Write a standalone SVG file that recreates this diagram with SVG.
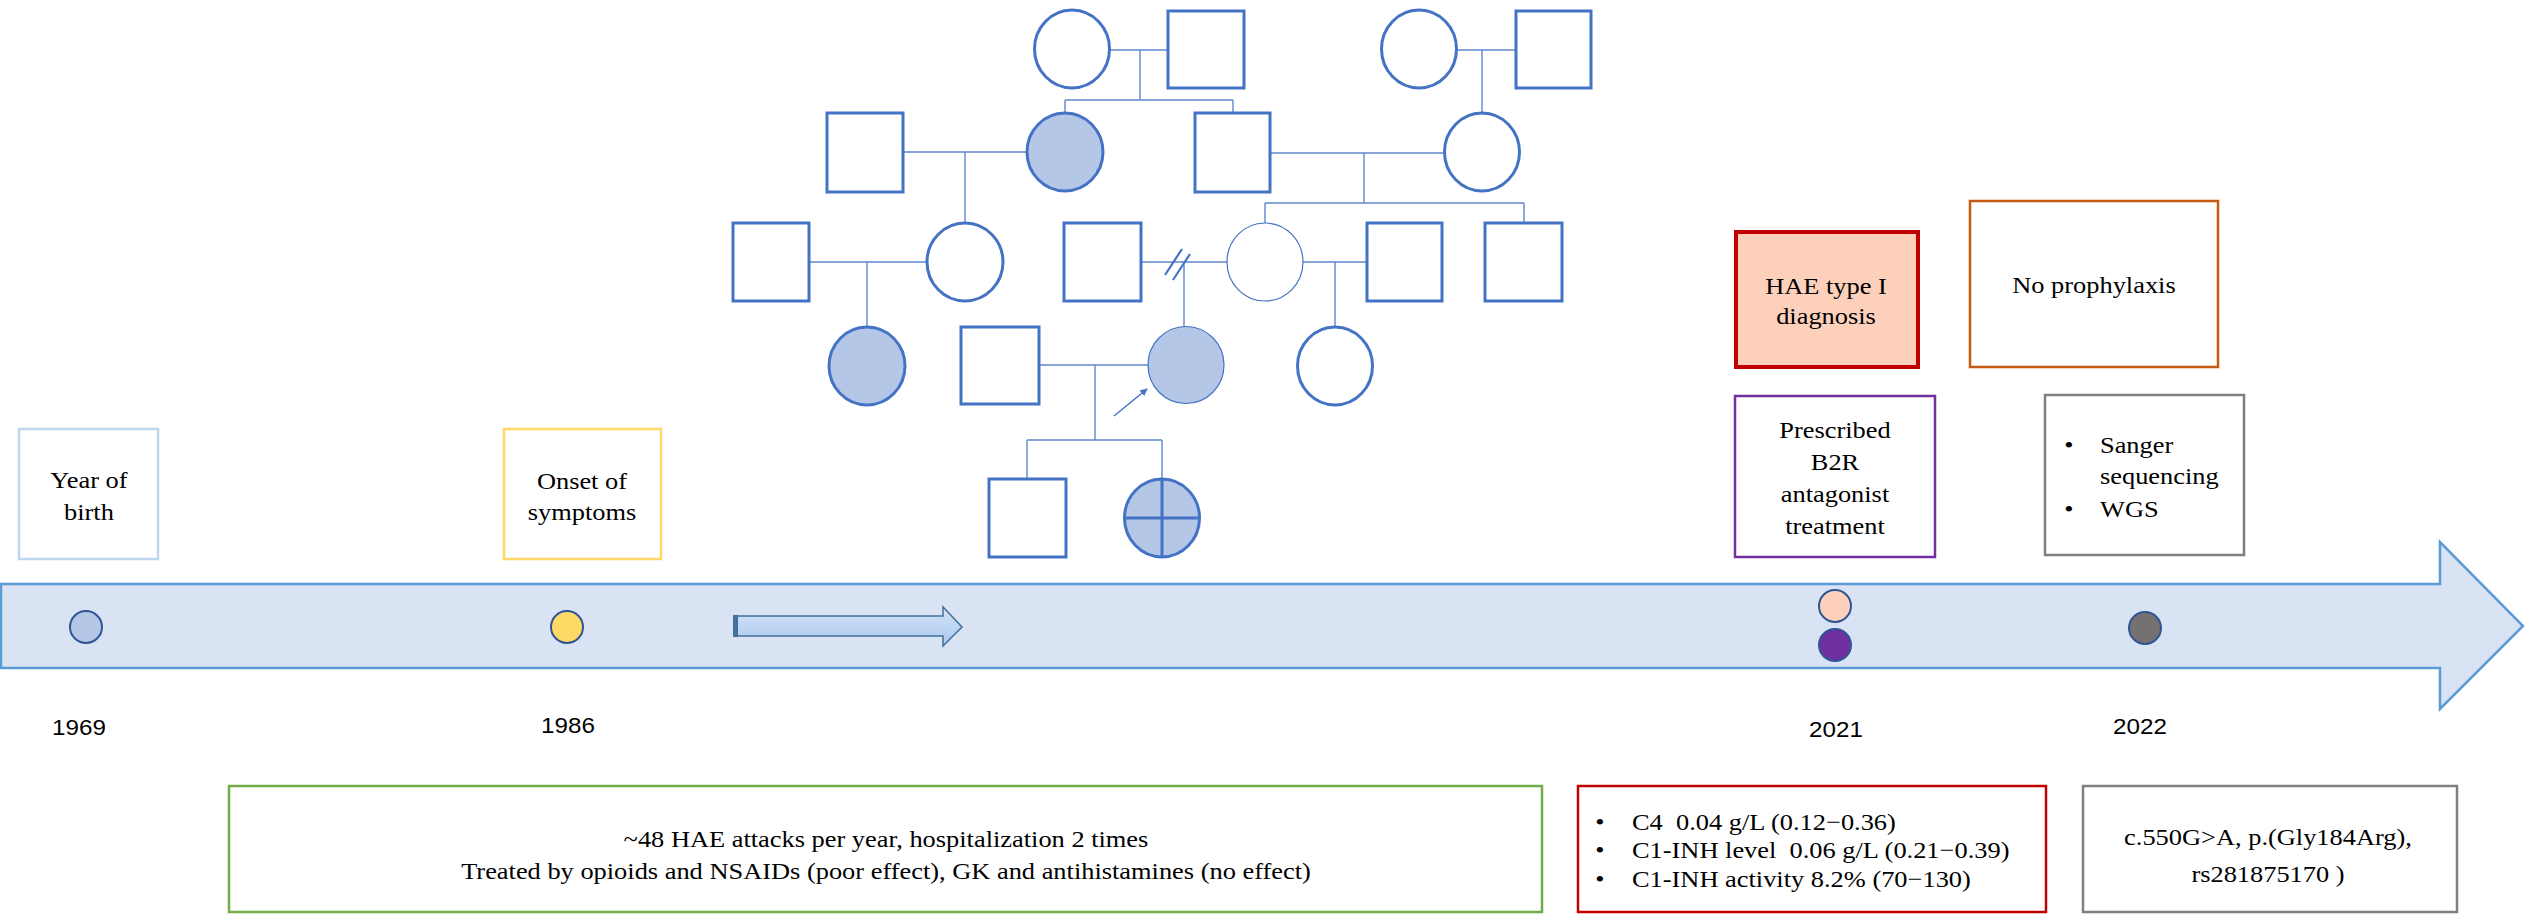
<svg xmlns="http://www.w3.org/2000/svg" width="2526" height="915" viewBox="0 0 2526 915">
<style>
.sq{fill:#fff;stroke:#4472C4;stroke-width:3}
.ci{fill:#fff;stroke:#4472C4;stroke-width:3}
.cit{fill:#fff;stroke:#4472C4;stroke-width:1.2}
.aff{fill:#B4C7E7}
.ln{stroke:#4472C4;stroke-width:1.4;fill:none;opacity:0.85}
.t{font-family:"Liberation Serif","Times New Roman",serif;font-size:24px;fill:#000;white-space:pre;transform-box:fill-box;transform-origin:center;transform:scaleX(1.1)}
.tl{transform-origin:left center}
.c{text-anchor:middle}
.yr{font-family:"Liberation Sans",Arial,sans-serif;font-size:22px;fill:#000;text-anchor:middle;transform-box:fill-box;transform-origin:center;transform:scaleX(1.1)}
.box{fill:#fff;stroke-width:2.5}
.dot{stroke:#2F5597;stroke-width:2}
</style>
<defs>
<marker id="ah" viewBox="0 0 10 10" refX="9" refY="5" markerWidth="5" markerHeight="5" orient="auto" markerUnits="strokeWidth">
<path d="M0,0 L10,5 L0,10 Z" fill="#4472C4"/>
</marker>
<linearGradient id="ag" x1="0" y1="0" x2="0" y2="1">
<stop offset="0" stop-color="#D6E4F7"/>
<stop offset="1" stop-color="#A9C8EF"/>
</linearGradient>
</defs>

<!-- timeline band -->
<g id="timeline">
<path d="M1,584 H2440 V542 L2523,626 L2440,709 V668 H1 Z" fill="#DAE3F3" stroke="#5B9BD5" stroke-width="2.5"/>
<path d="M735,616 H943 V607 L962,627 L943,646 V636 H735 Z" fill="url(#ag)" stroke="#41719C" stroke-width="1.5"/>
<rect x="733" y="615" width="5" height="22" fill="#41719C"/>
</g>

<g id="dots">
<circle class="dot" cx="86" cy="627" r="16" fill="#B4C7E7"/>
<circle class="dot" cx="567" cy="627" r="16" fill="#FFD966"/>
<circle class="dot" cx="1835" cy="606" r="16" fill="#FDD0BC"/>
<circle class="dot" cx="1835" cy="645" r="16" fill="#7030A0"/>
<circle class="dot" cx="2145" cy="628" r="16" fill="#767171"/>
</g>

<g id="years">
<text class="yr" x="79" y="735">1969</text>
<text class="yr" x="568" y="733">1986</text>
<text class="yr" x="1836" y="737">2021</text>
<text class="yr" x="2140" y="734">2022</text>
</g>

<!-- event boxes -->
<g id="box-birth">
<rect class="box" x="19" y="429" width="139" height="130" stroke="#BDD7EE"/>
<text class="t c" x="89" y="488">Year of</text>
<text class="t c" x="89" y="520">birth</text>
</g>
<g id="box-onset">
<rect class="box" x="504" y="429" width="157" height="130" stroke="#FFD966"/>
<text class="t c" x="582" y="489">Onset of</text>
<text class="t c" x="582" y="520">symptoms</text>
</g>
<g id="box-hae">
<rect x="1736" y="232" width="182" height="135" fill="#FDD0BC" stroke="#C00000" stroke-width="4"/>
<text class="t c" x="1826" y="294">HAE type I</text>
<text class="t c" x="1826" y="324">diagnosis</text>
</g>
<g id="box-noproph">
<rect class="box" x="1970" y="201" width="248" height="166" stroke="#C55A11"/>
<text class="t c" x="2094" y="293">No prophylaxis</text>
</g>
<g id="box-b2r">
<rect class="box" x="1735" y="396" width="200" height="161" stroke="#7030A0"/>
<text class="t c" x="1835" y="438">Prescribed</text>
<text class="t c" x="1835" y="470">B2R</text>
<text class="t c" x="1835" y="502">antagonist</text>
<text class="t c" x="1835" y="534">treatment</text>
</g>
<g id="box-seq">
<rect class="box" x="2045" y="395" width="199" height="160" stroke="#7F7F7F"/>
<text class="t c" x="2069" y="453">•</text>
<text class="t tl" x="2100" y="453">Sanger</text>
<text class="t tl" x="2100" y="484">sequencing</text>
<text class="t c" x="2069" y="517">•</text>
<text class="t tl" x="2100" y="517">WGS</text>
</g>
<g id="box-attacks">
<rect class="box" x="229" y="786" width="1313" height="126" stroke="#70AD47"/>
<text class="t c" x="886" y="847">~48 HAE attacks per year, hospitalization 2 times</text>
<text class="t c" x="886" y="879">Treated by opioids and NSAIDs (poor effect), GK and antihistamines (no effect)</text>
</g>
<g id="box-labs">
<rect class="box" x="1578" y="786" width="468" height="126" stroke="#C00000" stroke-width="2"/>
<text class="t c" x="1600" y="830">•</text>
<text class="t tl" x="1632" y="830" xml:space="preserve">C4  0.04 g/L (0.12−0.36)</text>
<text class="t c" x="1600" y="858">•</text>
<text class="t tl" x="1632" y="858" xml:space="preserve">C1-INH level  0.06 g/L (0.21−0.39)</text>
<text class="t c" x="1600" y="887">•</text>
<text class="t tl" x="1632" y="887">C1-INH activity 8.2% (70−130)</text>
</g>
<g id="box-variant">
<rect class="box" x="2083" y="786" width="374" height="126" stroke="#7F7F7F"/>
<text class="t c" x="2268" y="845">c.550G&gt;A, p.(Gly184Arg),</text>
<text class="t c" x="2268" y="882">rs281875170 )</text>
</g>

<!-- pedigree connectors -->
<g id="pedigree-lines">
<path class="ln" d="M1110,50 H1168 M1140,50 V100 M1065,100 H1233 M1065,100 V113 M1233,100 V113"/>
<path class="ln" d="M1457,50 H1516 M1482,50 V113"/>
<path class="ln" d="M903,152 H1027 M965,152 V223"/>
<path class="ln" d="M1270,153 H1444 M1364,153 V203 M1265,203 H1524 M1265,203 V223 M1524,203 V223"/>
<path class="ln" d="M809,262 H927 M867,262 V327"/>
<path class="ln" d="M1141,262 H1227 M1184,262 V327"/>
<path d="M1165,275 L1182,249 M1173,280 L1190,254" stroke="#4472C4" stroke-width="2.2"/>
<path class="ln" d="M1303,262 H1367 M1335,262 V327"/>
<path class="ln" d="M1039,365 H1148 M1095,365 V440 M1027,440 H1162 M1027,440 V479 M1162,440 V479"/>
<line x1="1114" y1="416" x2="1147" y2="389" stroke="#4472C4" stroke-width="1.5" marker-end="url(#ah)"/>
</g>

<!-- pedigree individuals -->
<g id="I-1"><ellipse class="ci" cx="1072" cy="49" rx="37.5" ry="39"/></g>
<g id="I-2"><rect class="sq" x="1168" y="11" width="76" height="77"/></g>
<g id="I-3"><ellipse class="ci" cx="1419" cy="49" rx="37.5" ry="39"/></g>
<g id="I-4"><rect class="sq" x="1516" y="11" width="75" height="77"/></g>
<g id="II-1"><rect class="sq" x="827" y="113" width="76" height="79"/></g>
<g id="II-2"><ellipse class="ci aff" cx="1065" cy="152" rx="38" ry="39"/></g>
<g id="II-3"><rect class="sq" x="1195" y="113" width="75" height="79"/></g>
<g id="II-4"><ellipse class="ci" cx="1482" cy="152" rx="37.5" ry="39"/></g>
<g id="III-1"><rect class="sq" x="733" y="223" width="76" height="78"/></g>
<g id="III-2"><ellipse class="ci" cx="965" cy="262" rx="38" ry="39"/></g>
<g id="III-3"><rect class="sq" x="1064" y="223" width="77" height="78"/></g>
<g id="III-4"><ellipse class="cit" cx="1265" cy="262" rx="38" ry="39"/></g>
<g id="III-5"><rect class="sq" x="1367" y="223" width="75" height="78"/></g>
<g id="III-6"><rect class="sq" x="1485" y="223" width="77" height="78"/></g>
<g id="IV-1"><ellipse class="ci aff" cx="867" cy="366" rx="38" ry="39"/></g>
<g id="IV-2"><rect class="sq" x="961" y="327" width="78" height="77"/></g>
<g id="IV-3"><ellipse class="cit aff" cx="1186" cy="365" rx="38" ry="38.5"/></g>
<g id="IV-4"><ellipse class="ci" cx="1335" cy="366" rx="37.5" ry="39"/></g>
<g id="V-1"><rect class="sq" x="989" y="479" width="77" height="78"/></g>
<g id="V-2">
<ellipse class="ci aff" cx="1162" cy="518" rx="37.5" ry="39"/>
<path d="M1162,479 V557 M1124.5,518 H1199.5" stroke="#4472C4" stroke-width="3"/>
</g>
</svg>
